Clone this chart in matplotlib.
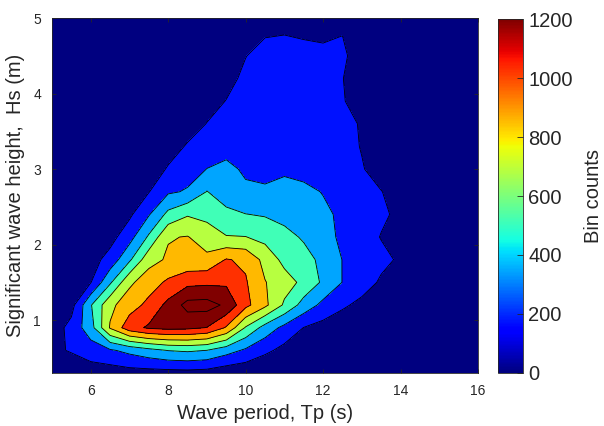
import numpy as np
import matplotlib
matplotlib.use("Agg")
import matplotlib.pyplot as plt
from matplotlib import colors as mcolors
from matplotlib.cm import ScalarMappable

plt.rcParams['font.family'] = ['Liberation Sans', 'DejaVu Sans']

# Grid of bin centres
tp_values = [5.0, 5.5, 6.0, 6.5, 7.0, 7.5, 8.0, 8.5, 9.0, 9.5, 10.0, 10.5,
             11.0, 11.5, 12.0, 12.5, 13.0, 13.5, 14.0, 14.5, 15.0, 15.5, 16.0]
hs_values = [0.3, 0.6, 0.9, 1.2, 1.5, 1.8, 2.1, 2.4, 2.7, 3.0, 3.3, 3.6,
             3.9, 4.2, 4.5, 4.8, 5.1]

# Bin counts (rows = Hs, columns = Tp)
bin_counts = [
    [0, 0, 84, 84, 104, 106, 109, 114, 103, 58, 44, 0, 0, 0, 0, 0, 0, 0, 0, 0, 0, 0, 0],
    [120, 193, 258, 322, 390, 459, 520, 540, 513, 415, 316, 212, 120, 70, 40, 25, 15, 10, 5, 0, 0, 0, 0],
    [80, 227, 442, 873, 1130, 1225, 1250, 1240, 1195, 1011, 670, 448, 296, 168, 110, 70, 40, 20, 10, 5, 0, 0, 0],
    [60, 110, 500, 817, 950, 1075, 1249, 1430, 1440, 1340, 1077, 897, 659, 446, 297, 197, 130, 80, 40, 20, 10, 5, 0],
    [30, 90, 165, 488, 824, 949, 1060, 1150, 1164, 1170, 1045, 865, 760, 644, 485, 339, 243, 150, 90, 50, 25, 10, 0],
    [10, 40, 100, 237, 485, 798, 880, 900, 900, 1040, 1000, 801, 637, 574, 473, 339, 274, 210, 150, 90, 50, 20, 5],
    [0, 10, 40, 110, 278, 540, 846, 865, 771, 695, 690, 633, 567, 495, 400, 313, 238, 165, 110, 60, 30, 10, 0],
    [0, 0, 10, 50, 140, 329, 560, 670, 640, 560, 518, 500, 461, 415, 370, 318, 257, 196, 140, 80, 40, 15, 0],
    [0, 0, 0, 10, 60, 165, 320, 358, 520, 420, 370, 365, 390, 375, 337, 278, 225, 175, 120, 70, 35, 10, 0],
    [0, 0, 0, 0, 20, 90, 185, 280, 345, 380, 320, 300, 320, 300, 270, 230, 180, 120, 70, 35, 15, 5, 0],
    [0, 0, 0, 0, 0, 30, 110, 185, 270, 290, 280, 270, 270, 260, 240, 215, 165, 100, 50, 20, 5, 0, 0],
    [0, 0, 0, 0, 0, 0, 40, 110, 175, 230, 250, 255, 250, 245, 230, 210, 160, 90, 40, 15, 0, 0, 0],
    [0, 0, 0, 0, 0, 0, 10, 40, 120, 175, 220, 235, 235, 230, 215, 180, 120, 60, 20, 0, 0, 0, 0],
    [0, 0, 0, 0, 0, 0, 0, 10, 50, 130, 200, 225, 225, 220, 205, 175, 100, 40, 10, 0, 0, 0, 0],
    [0, 0, 0, 0, 0, 0, 0, 0, 10, 60, 168, 215, 210, 205, 200, 190, 120, 40, 10, 0, 0, 0, 0],
    [0, 0, 0, 0, 0, 0, 0, 0, 0, 30, 100, 160, 168, 158, 149, 169, 90, 30, 5, 0, 0, 0, 0],
    [0, 0, 0, 0, 0, 0, 0, 0, 0, 10, 40, 80, 90, 80, 70, 80, 40, 10, 0, 0, 0, 0, 0],
]

contour_levels = [0, 171.4, 342.9, 514.3, 685.7, 857.1, 1028.6, 1200, 1371.4, 1600]
color_max = 1200
cbar_ticks = [0, 200, 400, 600, 800, 1000, 1200]
x_ticks = [6, 8, 10, 12, 14, 16]
y_ticks = [1, 2, 3, 4, 5]

X, Y = np.meshgrid(tp_values, hs_values)
Z = np.array(bin_counts, dtype=float)

jet = plt.get_cmap('jet')
fill_colors = [jet(min(lv / color_max, 1.0)) for lv in contour_levels[:-1]]

fig = plt.figure(figsize=(6.04, 4.26), dpi=100)
ax = fig.add_axes([0.0861, 0.1244, 0.7053, 0.8333])
ax.contourf(X, Y, Z, levels=contour_levels, colors=fill_colors)
ax.contour(X, Y, Z, levels=contour_levels[1:-1], colors='k', linewidths=0.6)

ax.set_xlim(5, 16)
ax.set_ylim(0.3, 5)
ax.set_xticks(x_ticks)
ax.set_yticks(y_ticks)
tc = '#262626'
ax.tick_params(direction='in', top=True, right=True, length=3, width=0.6,
               labelsize=10, colors=tc, pad=8)
for s in ax.spines.values():
    s.set_color(tc)
    s.set_linewidth(0.6)
ax.set_xlabel('Wave period, Tp (s)', fontsize=14.5, color=tc, labelpad=4)
ax.set_ylabel('Significant wave height,  Hs (m)', fontsize=14.5, color=tc, labelpad=6)

cax = fig.add_axes([0.825, 0.1251, 0.0404, 0.8296])
sm = ScalarMappable(norm=mcolors.Normalize(0, color_max), cmap=jet)
cb = fig.colorbar(sm, cax=cax)
cb.set_ticks(cbar_ticks)
cb.ax.tick_params(direction='in', length=4, width=0.6, labelsize=14.5, colors=tc, pad=4)
cb.outline.set_edgecolor(tc)
cb.outline.set_linewidth(0.6)
cb.set_label('Bin counts', fontsize=14.5, color=tc, labelpad=8)

fig.savefig('out.png', dpi=100)
